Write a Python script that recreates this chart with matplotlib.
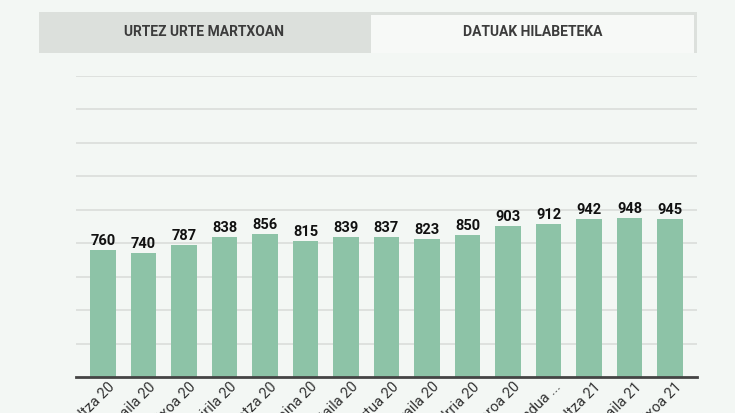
import matplotlib
matplotlib.use("Agg")
from matplotlib import pyplot as plt
from matplotlib.patches import Rectangle
from matplotlib.transforms import ScaledTranslation

# monthly data
months = ["Ilbeltza 20", "Otsaila 20", "Martxoa 20", "Apirila 20", "Maiatza 20",
          "Ekaina 20", "Uztaila 20", "Abuztua 20", "Iraila 20", "Urria 20",
          "Azaroa 20", "Abendua ...", "Ilbeltza 21", "Otsaila 21", "Martxoa 21"]
values = [760, 740, 787, 838, 856, 815, 839, 837, 823, 850, 903, 912, 942, 948, 945]
tabs = ["URTEZ URTE MARTXOAN", "DATUAK HILABETEKA"]

bg = "#f3f7f4"
plt.rcParams['font.family'] = ['Roboto', 'DejaVu Sans']

fig = plt.figure(figsize=(7.35, 4.13), dpi=100, facecolor=bg)

# tab header
W, H = 735.0, 413.0
fig.patches.append(Rectangle((39 / W, 1 - 53 / H), (697 - 39) / W, 41 / H,
                             transform=fig.transFigure, facecolor="#dce0dc",
                             edgecolor="none"))
fig.patches.append(Rectangle((371 / W, 1 - 53 / H), (694 - 371) / W, 38 / H,
                             transform=fig.transFigure, facecolor="#f7f9f7",
                             edgecolor="none"))
fig.text(204 / W, 1 - 32 / H, tabs[0], ha="center", va="center", fontsize=10,
         fontweight="bold", color="#3c3c3c")
fig.text(533 / W, 1 - 32 / H, tabs[1], ha="center", va="center", fontsize=10,
         fontweight="bold", color="#3c3c3c")

ax = fig.add_axes([76 / W, 36 / H, (697 - 76) / W, (377 - 76) / H])
ax.set_facecolor(bg)
x = list(range(len(values)))
bars = ax.bar(x, values, width=0.62, color="#8dc3a7", zorder=3)
for xi, v in zip(x, values):
    ax.text(xi, v + 12, str(v), ha="center", va="bottom", fontsize=10.5,
            fontweight="bold", color="#111111", zorder=4)

ax.set_ylim(0, 1800)
ax.set_xlim(-0.667, len(values) - 1 + 0.667)
ax.set_yticks(range(200, 1801, 200))
ax.yaxis.grid(True, color="#dcdfdc", linewidth=1.3, zorder=0)
ax.tick_params(axis="y", left=False, labelleft=False)
ax.tick_params(axis="x", length=0, pad=2)
ax.set_xticks(x)
ax.set_xticklabels(months, rotation=45, ha="right", rotation_mode="anchor",
                   fontsize=10.5, color="#333333")
# nudge labels a little to the right, like the original
shift = ScaledTranslation(5 / 100, 0, fig.dpi_scale_trans)
for lbl in ax.get_xticklabels():
    lbl.set_transform(lbl.get_transform() + shift)
for s in ["top", "right", "left"]:
    ax.spines[s].set_visible(False)
ax.spines["bottom"].set_color("#444444")
ax.spines["bottom"].set_linewidth(2)
ax.spines["bottom"].set_zorder(5)

fig.savefig("out.png", dpi=100, facecolor=bg)
